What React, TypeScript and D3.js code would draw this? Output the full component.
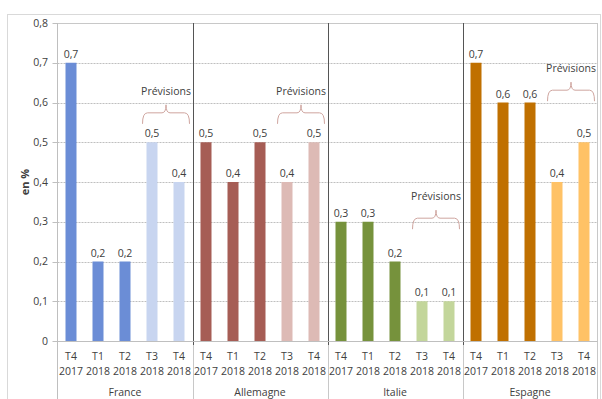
import React, { useEffect, useRef } from "react";
import * as d3 from "d3";

const countries = ["France", "Allemagne", "Italie", "Espagne"];
const quarters = ["T4", "T1", "T2", "T3", "T4"];
const years = ["2017", "2018", "2018", "2018", "2018"];

const france = [0.7, 0.2, 0.2, 0.5, 0.4];
const allemagne = [0.5, 0.4, 0.5, 0.4, 0.5];
const italie = [0.3, 0.3, 0.2, 0.1, 0.1];
const espagne = [0.7, 0.6, 0.6, 0.4, 0.5];

// first forecast period index ("Prévisions")
const forecastFrom = 3;
// height of the "Prévisions" brace, in axis units
const braceLevel = [0.574, 0.574, 0.309, 0.631];

const darkColors = ["#6B8DD6", "#A65D55", "#76923C", "#C07000"];
const lightColors = ["#C8D5F0", "#DDBAB5", "#C3D69B", "#FFC266"];

const yTicks = [0, 0.1, 0.2, 0.3, 0.4, 0.5, 0.6, 0.7, 0.8];

const fmt = (v: number) => (v === 0 ? "0" : d3.format(".1f")(v).replace(".", ","));

const App: React.FC = () => {
  const svgRef = useRef<SVGSVGElement>(null);

  useEffect(() => {
    if (!svgRef.current) return;
    const width = 602;
    const height = 399;
    const left = 57.5;
    const right = 597.5;
    const top = 23;
    const bottom = 341;
    const font = "'Open Sans', sans-serif";
    const textColor = "#404040";
    const series = [france, allemagne, italie, espagne];

    const svg = d3.select(svgRef.current).attr("width", width).attr("height", height);
    svg.selectAll("*").remove();

    const y = d3.scaleLinear().domain([0, 0.8]).range([bottom, top]);
    const x0 = d3.scaleBand<string>().domain(countries).range([left, right]).padding(0);
    const idx = d3.range(quarters.length).map(String);
    const x1 = d3
      .scaleBand<string>()
      .domain(idx)
      .range([0, x0.bandwidth()])
      .paddingInner(16 / 27)
      .paddingOuter(8 / 27);

    // outer frame
    svg
      .append("rect")
      .attr("x", 7.5)
      .attr("y", 14.5)
      .attr("width", 593)
      .attr("height", 400)
      .attr("fill", "none")
      .attr("stroke", "#d9d9d9");

    // gridlines
    svg
      .selectAll("line.grid")
      .data(yTicks.filter((t) => t > 0 && t < 0.8))
      .enter()
      .append("line")
      .attr("x1", left)
      .attr("x2", right)
      .attr("y1", (d) => Math.round(y(d)) + 0.5)
      .attr("y2", (d) => Math.round(y(d)) + 0.5)
      .attr("stroke", "#bfbfbf")
      .attr("stroke-dasharray", "2,1");

    // plot top and right border
    svg
      .append("line")
      .attr("x1", left)
      .attr("x2", right)
      .attr("y1", top + 0.5)
      .attr("y2", top + 0.5)
      .attr("stroke", "#c8c8c8");
    svg
      .append("line")
      .attr("x1", right)
      .attr("x2", right)
      .attr("y1", top)
      .attr("y2", height)
      .attr("stroke", "#c8c8c8");

    // bars
    countries.forEach((c, ci) => {
      const g = svg.append("g").attr("transform", `translate(${x0(c)},0)`);
      const vals = series[ci];
      g.selectAll("rect")
        .data(vals)
        .enter()
        .append("rect")
        .attr("x", (_, i) => x1(String(i))!)
        .attr("width", x1.bandwidth())
        .attr("y", (d) => y(d))
        .attr("height", (d) => bottom - y(d))
        .attr("fill", (_, i) => (i >= forecastFrom ? lightColors[ci] : darkColors[ci]));

      g.selectAll("text.val")
        .data(vals)
        .enter()
        .append("text")
        .attr("x", (_, i) => x1(String(i))! + x1.bandwidth() / 2)
        .attr("y", (d) => y(d) - 5)
        .attr("text-anchor", "middle")
        .attr("font-family", font)
        .attr("font-size", 10.5)
        .attr("fill", textColor)
        .text((d) => fmt(d));

      // category labels
      g.selectAll("text.q")
        .data(quarters)
        .enter()
        .append("text")
        .attr("x", (_, i) => x1(String(i))! + x1.bandwidth() / 2)
        .attr("y", 360)
        .attr("text-anchor", "middle")
        .attr("font-family", font)
        .attr("font-size", 10.5)
        .attr("fill", textColor)
        .text((d) => d);
      g.selectAll("text.yr")
        .data(years)
        .enter()
        .append("text")
        .attr("x", (_, i) => x1(String(i))! + x1.bandwidth() / 2)
        .attr("y", 375)
        .attr("text-anchor", "middle")
        .attr("font-family", font)
        .attr("font-size", 10.5)
        .attr("fill", textColor)
        .text((d) => d);
      g.append("text")
        .attr("x", x0.bandwidth() / 2)
        .attr("y", 396)
        .attr("text-anchor", "middle")
        .attr("font-family", font)
        .attr("font-size", 10.5)
        .attr("fill", textColor)
        .text(c);

      // "Prévisions" brace
      const bx0 = x1(String(forecastFrom))! - 4;
      const bx1 = x0.bandwidth() - 3;
      const bxc = (bx0 + bx1) / 2;
      const ya = y(braceLevel[ci]);
      const yEnd = ya + 11;
      const yPt = ya - 8;
      const path = d3.path();
      path.moveTo(bx0, yEnd);
      path.quadraticCurveTo(bx0, ya, bx0 + 5, ya);
      path.lineTo(bxc - 4, ya);
      path.quadraticCurveTo(bxc, ya, bxc, yPt);
      path.quadraticCurveTo(bxc, ya, bxc + 4, ya);
      path.lineTo(bx1 - 5, ya);
      path.quadraticCurveTo(bx1, ya, bx1, yEnd);
      g.append("path")
        .attr("d", path.toString())
        .attr("fill", "none")
        .attr("stroke", "#CFA59F")
        .attr("stroke-width", 1);
      g.append("text")
        .attr("x", bxc)
        .attr("y", ya - 18)
        .attr("text-anchor", "middle")
        .attr("font-family", font)
        .attr("font-size", 10.5)
        .attr("fill", textColor)
        .text("Prévisions");
    });

    // group separators
    countries.slice(1).forEach((c) => {
      const sx = Math.round(x0(c)!) + 0.5;
      svg
        .append("line")
        .attr("x1", sx)
        .attr("x2", sx)
        .attr("y1", top)
        .attr("y2", bottom + 4)
        .attr("stroke", "#555555");
      svg
        .append("line")
        .attr("x1", sx)
        .attr("x2", sx)
        .attr("y1", bottom + 4)
        .attr("y2", height)
        .attr("stroke", "#c8c8c8");
    });

    // x axis (zero line)
    svg
      .append("line")
      .attr("x1", left)
      .attr("x2", right)
      .attr("y1", bottom + 0.5)
      .attr("y2", bottom + 0.5)
      .attr("stroke", "#bfbfbf");

    // y axis
    svg
      .append("line")
      .attr("x1", left)
      .attr("x2", left)
      .attr("y1", top)
      .attr("y2", height)
      .attr("stroke", "#bfbfbf");
    svg
      .selectAll("line.tick")
      .data(yTicks)
      .enter()
      .append("line")
      .attr("x1", left - 5)
      .attr("x2", left)
      .attr("y1", (d) => Math.round(y(d)) + 0.5)
      .attr("y2", (d) => Math.round(y(d)) + 0.5)
      .attr("stroke", "#bfbfbf");
    svg
      .selectAll("text.ytick")
      .data(yTicks)
      .enter()
      .append("text")
      .attr("x", 48)
      .attr("y", (d) => y(d))
      .attr("dy", "0.35em")
      .attr("text-anchor", "end")
      .attr("font-family", font)
      .attr("font-size", 10.5)
      .attr("fill", textColor)
      .text((d) => fmt(d));

    svg
      .append("text")
      .attr("transform", `translate(29,${(top + bottom) / 2}) rotate(-90)`)
      .attr("text-anchor", "middle")
      .attr("font-family", font)
      .attr("font-size", 11)
      .attr("font-weight", "bold")
      .attr("fill", textColor)
      .text("en %");
  }, []);

  return (
    <svg
      ref={svgRef}
      style={{ position: "absolute", left: 0, top: 0, display: "block" }}
    ></svg>
  );
};

export default App;
